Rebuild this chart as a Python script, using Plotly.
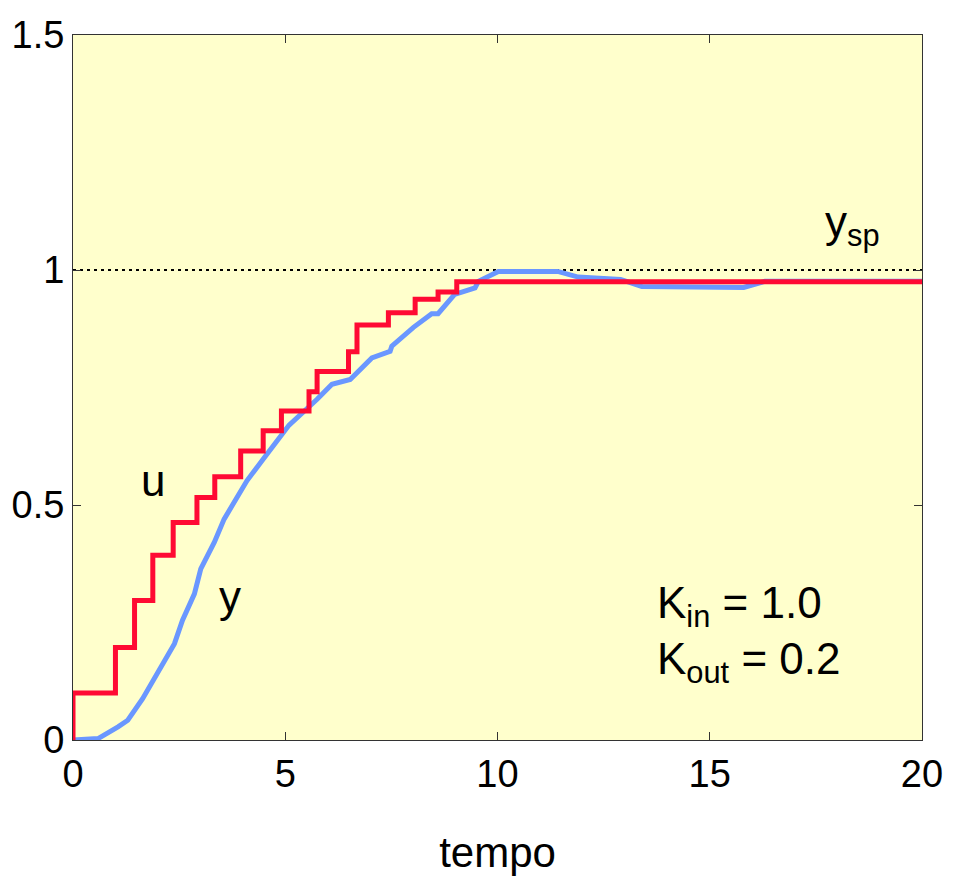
import plotly.graph_objects as go

# control input u (piecewise constant, value from each time onward)
u_t = [0, 0, 1.0, 1.45, 1.88, 2.36, 2.92, 3.34, 3.95, 4.48, 4.91, 5.56, 5.75,
       6.49, 6.69, 7.43, 8.06, 8.6, 9.04, 20]
u_v = [0, 0.10, 0.197, 0.297, 0.393, 0.463, 0.516, 0.56, 0.615, 0.658, 0.70,
       0.741, 0.784, 0.826, 0.883, 0.909, 0.938, 0.953, 0.975, 0.975]

# process output y
y_t = [0, 0.59, 1.06, 1.29, 1.64, 2.03, 2.39, 2.58, 2.86, 3.01, 3.33, 3.56,
       3.91, 4.1, 4.5, 5.09, 5.75, 6.1, 6.53, 7.04, 7.47, 7.51, 8.02, 8.45,
       8.6, 8.99, 9.47, 9.55, 10.02, 11.42, 11.9, 12.9, 13.4, 15.8, 16.3, 20]
y_v = [0, 0.003, 0.028, 0.042, 0.088, 0.15, 0.205, 0.255, 0.311, 0.364,
       0.421, 0.47, 0.52, 0.552, 0.60, 0.67, 0.725, 0.757, 0.767, 0.813,
       0.827, 0.838, 0.878, 0.907, 0.907, 0.948, 0.962, 0.976, 0.997, 0.997,
       0.985, 0.98, 0.965, 0.963, 0.976, 0.976]

# set point
sp_t = [0, 20]
sp_v = [1.0, 1.0]

x_ticks = [0, 5, 10, 15, 20]
y_ticks = [0, 0.5, 1, 1.5]
y_tick_text = ["0", "0.5", "1", "1.5"]

FONT = "Liberation Sans, Arial, sans-serif"

fig = go.Figure()
fig.add_trace(go.Scatter(x=sp_t, y=sp_v, mode="lines",
                         line=dict(color="black", width=2, dash="3px,4px"),
                         hoverinfo="skip"))
fig.add_trace(go.Scatter(x=y_t, y=y_v, mode="lines",
                         line=dict(color="#6a97ff", width=5)))
fig.add_trace(go.Scatter(x=u_t, y=u_v, mode="lines", line_shape="hv",
                         line=dict(color="#ff0a33", width=5)))

ann = dict(showarrow=False, font=dict(family=FONT, size=44, color="black"))
fig.add_annotation(x=1.88, y=0.553, text="u", xanchor="center", yanchor="middle", **ann)
fig.add_annotation(x=3.71, y=0.305, text="y", xanchor="center", yanchor="middle", **ann)
fig.add_annotation(x=17.67, y=1.095, text="y<sub>sp</sub>", xanchor="left", yanchor="middle", **ann)
fig.add_annotation(x=13.7, y=0.286, text="K<sub>in</sub> = 1.0", xanchor="left", yanchor="middle", **ann)
fig.add_annotation(x=13.7, y=0.165, text="K<sub>out</sub> = 0.2", xanchor="left", yanchor="middle", **ann)

fig.update_layout(
    width=957, height=882,
    margin=dict(l=70, r=35, t=35, b=142),
    paper_bgcolor="white",
    plot_bgcolor="#ffffcc",
    showlegend=False,
    font=dict(family=FONT, size=38, color="black"),
)
fig.update_xaxes(range=[0, 20], tickvals=x_ticks, ticks="inside", ticklen=8,
                 tickcolor="#333", showline=True, linecolor="#333", linewidth=1,
                 mirror="ticks", showgrid=False, zeroline=False,
                 tickfont=dict(family=FONT, size=38),
                 title=dict(text="tempo", font=dict(family=FONT, size=42), standoff=44))
fig.update_yaxes(range=[0, 1.5], tickvals=y_ticks, ticktext=y_tick_text,
                 ticks="inside", ticklen=8, tickcolor="#333", showline=True,
                 linecolor="#333", linewidth=1, mirror="ticks", showgrid=False,
                 zeroline=False, tickfont=dict(family=FONT, size=38))

fig.write_html("out.html")
